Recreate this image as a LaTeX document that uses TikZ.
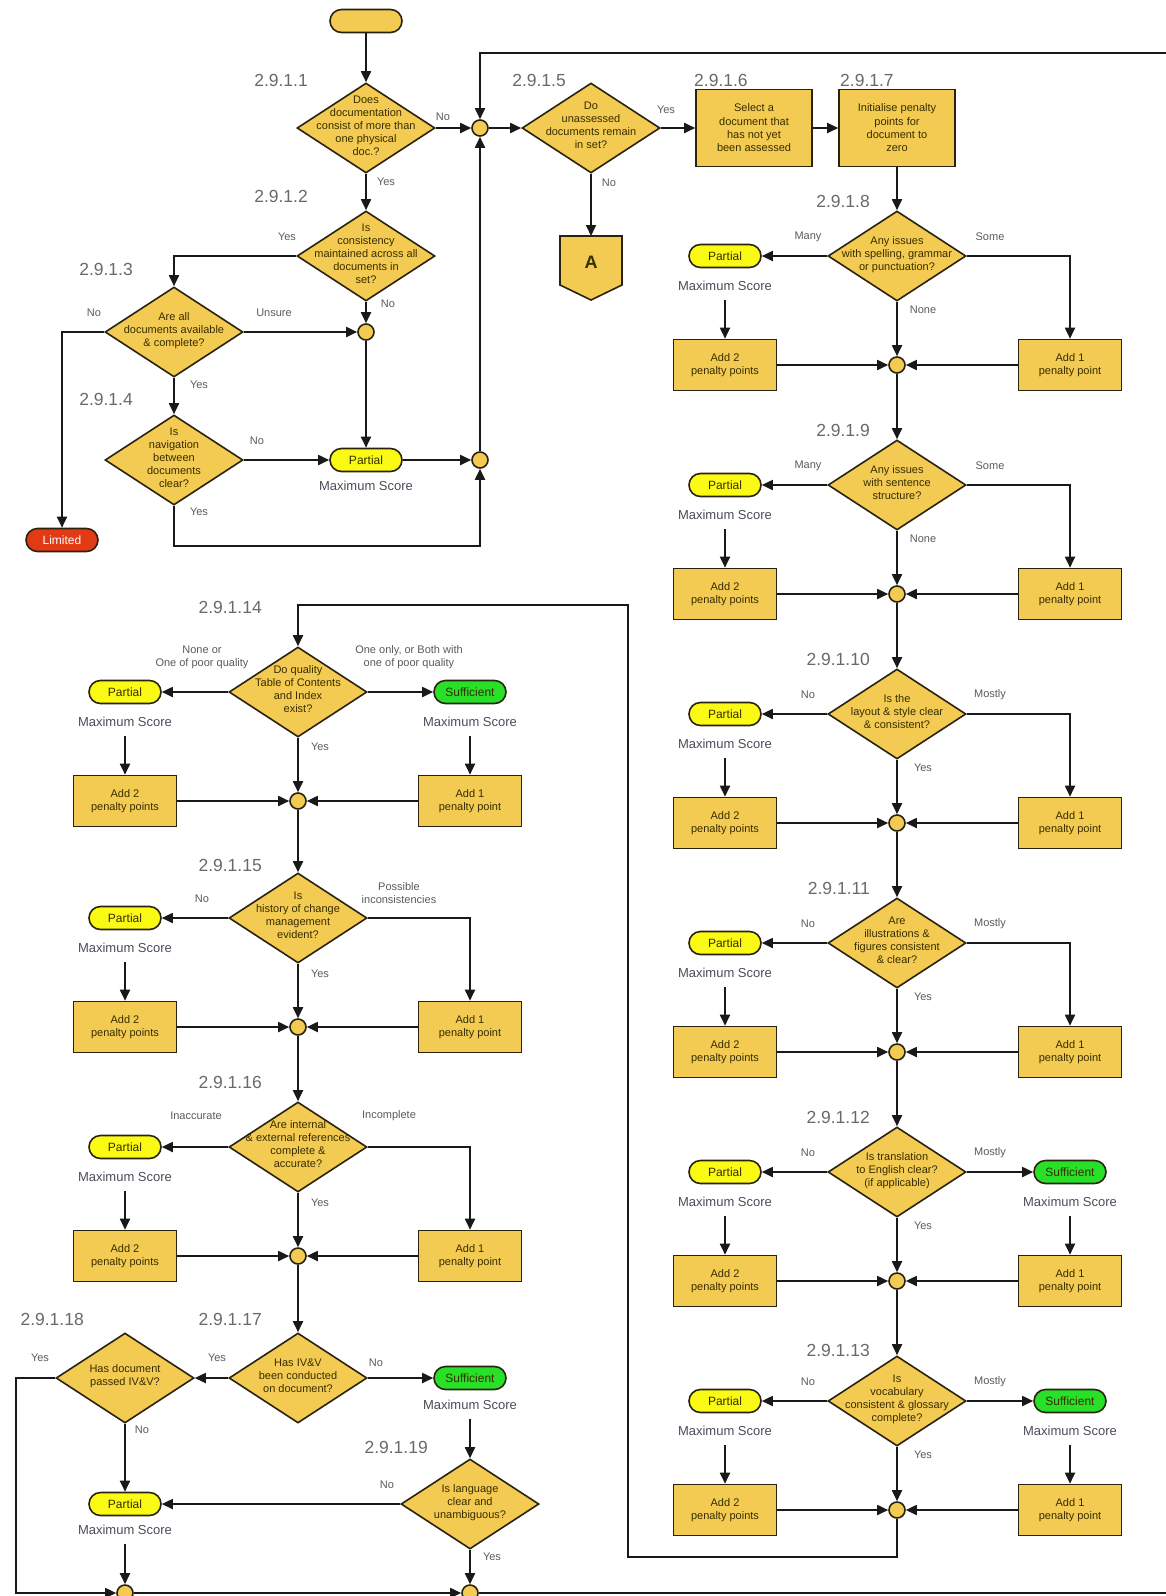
\documentclass[tikz,border=0pt]{standalone}
\usepackage{fontspec}
\setmainfont{Liberation Sans}
\usetikzlibrary{shapes.geometric,shapes.misc,arrows.meta}
\definecolor{gold}{RGB}{244,203,82}
\definecolor{byel}{RGB}{250,250,20}
\definecolor{bgreen}{RGB}{40,224,40}
\definecolor{lred}{RGB}{226,58,20}
\definecolor{outl}{RGB}{40,34,15}
\definecolor{txt}{RGB}{55,45,0}
\definecolor{lblgray}{RGB}{90,90,90}
\definecolor{secgray}{RGB}{105,105,105}
\definecolor{msgray}{RGB}{75,75,90}
\definecolor{lncol}{RGB}{25,25,25}
\newcommand{\zt}[1]{\makebox[0pt]{\raisebox{-0.25em}{\smash{\begin{tabular}{@{}c@{}}#1\end{tabular}}}}}
% generic assessment block: #1 id, #2 x diamond, #3 x left column, #4 x right column, #5 y, #6 question
\newcommand{\blk}[6]{%
  \node[dia] (d#1) at (#2,#5) {\zt{#6}};
  \node[pillY] (p#1) at (#3,#5) {Partial};
  \node[ms] (m#1) at (#3,#5+30) {Maximum Score};
  \node[box] (aa#1) at (#3,#5+109) {Add 2\\penalty points};
  \node[box] (ab#1) at (#4,#5+109) {Add 1\\penalty point};
  \node[junc] (j#1) at (#2,#5+109) {};
  \draw[arr] (d#1) -- (p#1);
  \draw[arr, shorten <=8pt] (m#1.south) -- (aa#1.north);
  \draw[arr] (d#1) -- (j#1);
  \draw[arr] (aa#1) -- (j#1);
  \draw[arr] (ab#1) -- (j#1);
}
\begin{document}
\begin{tikzpicture}[x=1pt,y=-1pt,
  base/.style={draw=outl, line width=1.6pt, fill=gold, text=txt, inner sep=0pt},
  dia/.style={base, diamond, minimum width=138pt, minimum height=90pt, font=\fontsize{11}{13}\selectfont},
  box/.style={base, rectangle, minimum width=103pt, minimum height=51pt, align=center, font=\fontsize{11}{13.3}\selectfont},
  bigbox/.style={box, minimum width=116pt, minimum height=77pt},
  pill/.style={base, rounded rectangle, minimum width=72pt, minimum height=23pt, font=\fontsize{12}{14}\selectfont},
  pillY/.style={pill, fill=byel},
  pillG/.style={pill, fill=bgreen},
  pillR/.style={pill, fill=lred, text=white},
  junc/.style={base, circle, minimum size=16pt},
  sec/.style={text=secgray, font=\fontsize{17.5}{20}\selectfont, inner sep=0pt},
  elab/.style={text=lblgray, font=\fontsize{11}{13}\selectfont, inner sep=0pt, align=center},
  ms/.style={text=msgray, font=\fontsize{13}{15}\selectfont, inner sep=1pt},
  ln/.style={draw=lncol, line width=1.8pt},
  arr/.style={ln, -{Triangle[length=11pt,width=10pt]}},
]
\useasboundingbox (0,0) rectangle (1166,1596);

% ---------------- top left ----------------
\node[pill] (start) at (366,21) {};
\node[dia] (d1) at (366,128) {\zt{Does\\documentation\\consist of more than\\one physical\\doc.?}};
\node[sec, anchor=east] (L1) at (308,80) {2.9.1.1};
\node[junc] (j1) at (480,128) {};
\node[dia] (d2) at (366,256) {\zt{Is\\consistency\\maintained across all\\documents in\\set?}};
\node[sec, anchor=east] (L2) at (308,196) {2.9.1.2};
\node[dia] (d3) at (174,332) {\zt{Are all\\documents available\\\& complete?}};
\node[sec, anchor=east] (L3) at (133,269) {2.9.1.3};
\node[junc] (j2) at (366,332) {};
\node[dia] (d4) at (174,460) {\zt{Is\\navigation\\between\\documents\\clear?}};
\node[sec, anchor=east] (L4) at (133,399) {2.9.1.4};
\node[pillY] (p4) at (366,460) {Partial};
\node[ms] (m4) at (366,486) {Maximum Score};
\node[junc] (j3) at (480,460) {};
\node[pillR] (lim) at (62,540) {Limited};

\node[elab] (e1n) at (443,117) {No};
\node[elab] (e1y) at (386,182) {Yes};
\node[elab] (e2y) at (287,237) {Yes};
\node[elab] (e2n) at (388,304) {No};
\node[elab] (e3u) at (274,313) {Unsure};
\node[elab] (e3n) at (94,313) {No};
\node[elab] (e3y) at (199,385) {Yes};
\node[elab] (e4n) at (257,441) {No};
\node[elab] (e4y) at (199,512) {Yes};

\coordinate (c4) at (174,546);
\coordinate (c4b) at (480,546);
\coordinate (topR) at (1180,53);
\coordinate (topL) at (480,53);

\draw[arr] (start) -- (d1);
\draw[arr] (d1) -- (j1);
\draw[arr] (d1) -- (d2);
\draw[arr] (d2.west) -| (d3.north);
\draw[arr] (d2) -- (j2);
\draw[arr] (d3) -- (j2);
\draw[arr] (d3.west) -| (lim.north);
\draw[arr] (d3) -- (d4);
\draw[arr] (d4) -- (p4);
\draw[arr] (j2) -- (p4);
\draw[arr] (p4) -- (j3);
\draw[arr] (d4.south) -- (c4) -- (c4b) -- (j3.south);
\draw[arr] (j3) -- (j1);
\draw[arr] (topR) -- (topL) -- (j1.north);

% ---------------- top right ----------------
\node[dia] (d5) at (591,128) {\zt{Do\\unassessed\\documents remain\\in set?}};
\node[sec, anchor=east] (L5) at (566,80) {2.9.1.5};
\node[bigbox] (b6) at (754,128) {Select a\\document that\\has not yet\\been assessed};
\node[sec, anchor=west] (L6) at (694,80) {2.9.1.6};
\node[bigbox] (b7) at (897,128) {Initialise penalty\\points for\\document to\\zero};
\node[sec, anchor=west] (L7) at (840,80) {2.9.1.7};
\node[elab] (e5y) at (666,110) {Yes};
\node[elab] (e5n) at (609,183) {No};
\draw[fill=gold, draw=outl, line width=1.6pt] (560,236) -- (622,236) -- (622,285) -- (591,300) -- (560,285) -- cycle;
\node[text=txt, font=\fontsize{18}{20}\selectfont\bfseries] (A) at (591,262) {A};
\coordinate (Atop) at (591,236);
\draw[arr] (j1) -- (d5);
\draw[arr] (d5) -- (b6);
\draw[arr] (b6) -- (b7);
\draw[arr] (d5.south) -- (Atop);

% ---------------- right column ----------------
\blk{8}{897}{725}{1070}{256}{Any issues\\with spelling, grammar\\or punctuation?}
\blk{9}{897}{725}{1070}{485}{Any issues\\with sentence\\structure?}
\blk{10}{897}{725}{1070}{714}{Is the\\layout \& style clear\\\& consistent?}
\blk{11}{897}{725}{1070}{943}{Are\\illustrations \&\\figures consistent\\\& clear?}
\blk{12}{897}{725}{1070}{1172}{Is translation\\to English clear?\\(if applicable)}
\blk{13}{897}{725}{1070}{1401}{Is\\vocabulary\\consistent \& glossary\\complete?}

\node[sec, anchor=east] (L8) at (870,201) {2.9.1.8};
\node[sec, anchor=east] (L9) at (870,430) {2.9.1.9};
\node[sec, anchor=east] (L10) at (870,659) {2.9.1.10};
\node[sec, anchor=east] (L11) at (870,888) {2.9.1.11};
\node[sec, anchor=east] (L12) at (870,1117) {2.9.1.12};
\node[sec, anchor=east] (L13) at (870,1350) {2.9.1.13};

\node[elab] (el8) at (808,237) {Many};
\node[elab] (er8) at (990,237) {Some};
\node[elab] (eb8) at (923,310) {None};
\node[elab] (el9) at (808,466) {Many};
\node[elab] (er9) at (990,466) {Some};
\node[elab] (eb9) at (923,539) {None};
\node[elab] (el10) at (808,695) {No};
\node[elab] (er10) at (990,695) {Mostly};
\node[elab] (eb10) at (923,768) {Yes};
\node[elab] (el11) at (808,924) {No};
\node[elab] (er11) at (990,924) {Mostly};
\node[elab] (eb11) at (923,997) {Yes};
\node[elab] (el12) at (808,1153) {No};
\node[elab] (er12) at (990,1153) {Mostly};
\node[elab] (eb12) at (923,1226) {Yes};
\node[elab] (el13) at (808,1382) {No};
\node[elab] (er13) at (990,1382) {Mostly};
\node[elab] (eb13) at (923,1455) {Yes};

\draw[arr] (b7) -- (d8);
\draw[arr] (d8.east) -| (ab8.north);
\draw[arr] (d9.east) -| (ab9.north);
\draw[arr] (d10.east) -| (ab10.north);
\draw[arr] (d11.east) -| (ab11.north);
\node[pillG] (s12) at (1070,1172) {Sufficient};
\node[ms] (mr12) at (1070,1202) {Maximum Score};
\node[pillG] (s13) at (1070,1401) {Sufficient};
\node[ms] (mr13) at (1070,1431) {Maximum Score};
\draw[arr] (d12) -- (s12);
\draw[arr] (d13) -- (s13);
\draw[arr, shorten <=8pt] (mr12.south) -- (ab12.north);
\draw[arr, shorten <=8pt] (mr13.south) -- (ab13.north);
\draw[arr] (j8) -- (d9);
\draw[arr] (j9) -- (d10);
\draw[arr] (j10) -- (d11);
\draw[arr] (j11) -- (d12);
\draw[arr] (j12) -- (d13);

\coordinate (r1) at (897,1557);
\coordinate (r2) at (628,1557);
\coordinate (r3) at (628,605);
\coordinate (r4) at (298,605);

% ---------------- left column ----------------
\blk{14}{298}{125}{470}{692}{Do quality\\Table of Contents\\and Index\\exist?}
\blk{15}{298}{125}{470}{918}{Is\\history of change\\management\\evident?}
\blk{16}{298}{125}{470}{1147}{Are internal\\\& external references\\complete \&\\accurate?}
\draw[arr] (j13.south) -- (r1) -- (r2) -- (r3) -- (r4) -- (d14.north);

\node[sec, anchor=east] (L14) at (262,607) {2.9.1.14};
\node[sec, anchor=east] (L15) at (262,865) {2.9.1.15};
\node[sec, anchor=east] (L16) at (262,1082) {2.9.1.16};

\node[pillG] (s14) at (470,692) {Sufficient};
\node[ms] (mr14) at (470,722) {Maximum Score};
\draw[arr] (d14) -- (s14);
\draw[arr, shorten <=8pt] (mr14.south) -- (ab14.north);
\draw[arr] (d15.east) -| (ab15.north);
\draw[arr] (d16.east) -| (ab16.north);
\draw[arr] (j14) -- (d15);
\draw[arr] (j15) -- (d16);

\node[elab] (el14) at (202,657) {None or\\One of poor quality};
\node[elab] (er14) at (409,657) {One only, or Both with\\one of poor quality};
\node[elab] (eb14) at (320,747) {Yes};
\node[elab] (el15) at (202,899) {No};
\node[elab] (er15) at (399,893) {Possible\\inconsistencies};
\node[elab] (eb15) at (320,974) {Yes};
\node[elab] (el16) at (196,1116) {Inaccurate};
\node[elab] (er16) at (389,1116) {Incomplete};
\node[elab] (eb16) at (320,1203) {Yes};

% ---------------- bottom left ----------------
\node[dia] (d17) at (298,1378) {\zt{Has IV\&V\\been conducted\\on document?}};
\node[sec, anchor=east] (L17) at (262,1319) {2.9.1.17};
\node[dia] (d18) at (125,1378) {\zt{Has document\\passed IV\&V?}};
\node[sec, anchor=east] (L18) at (84,1319) {2.9.1.18};
\node[pillG] (s17) at (470,1378) {Sufficient};
\node[ms] (m17) at (470,1405) {Maximum Score};
\node[dia] (d19) at (470,1504) {\zt{Is language\\clear and\\unambiguous?}};
\node[sec, anchor=east] (L19) at (428,1447) {2.9.1.19};
\node[pillY] (p18) at (125,1504) {Partial};
\node[ms] (m18) at (125,1530) {Maximum Score};
\node[junc] (jb1) at (125,1593) {};
\node[junc] (jb2) at (470,1593) {};
\coordinate (bl1) at (16,1378);
\coordinate (bl2) at (16,1593);
\coordinate (br) at (1180,1593);

\node[elab] (e17y) at (217,1358) {Yes};
\node[elab] (e18y) at (40,1358) {Yes};
\node[elab] (e17n) at (376,1363) {No};
\node[elab] (e18n) at (142,1430) {No};
\node[elab] (e19n) at (387,1485) {No};
\node[elab] (e19y) at (492,1557) {Yes};

\draw[arr] (j16) -- (d17);
\draw[arr] (d17) -- (d18);
\draw[arr] (d17) -- (s17);
\draw[arr, shorten <=8pt] (m17.south) -- (d19.north);
\draw[arr] (d18) -- (p18);
\draw[arr] (d19) -- (p18);
\draw[arr, shorten <=8pt] (m18.south) -- (jb1.north);
\draw[arr] (d18.west) -- (bl1) -- (bl2) -- (jb1.west);
\draw[arr] (jb1) -- (jb2);
\draw[arr] (d19) -- (jb2);
\draw[ln] (jb2.east) -- (br);
\end{tikzpicture}
\end{document}
